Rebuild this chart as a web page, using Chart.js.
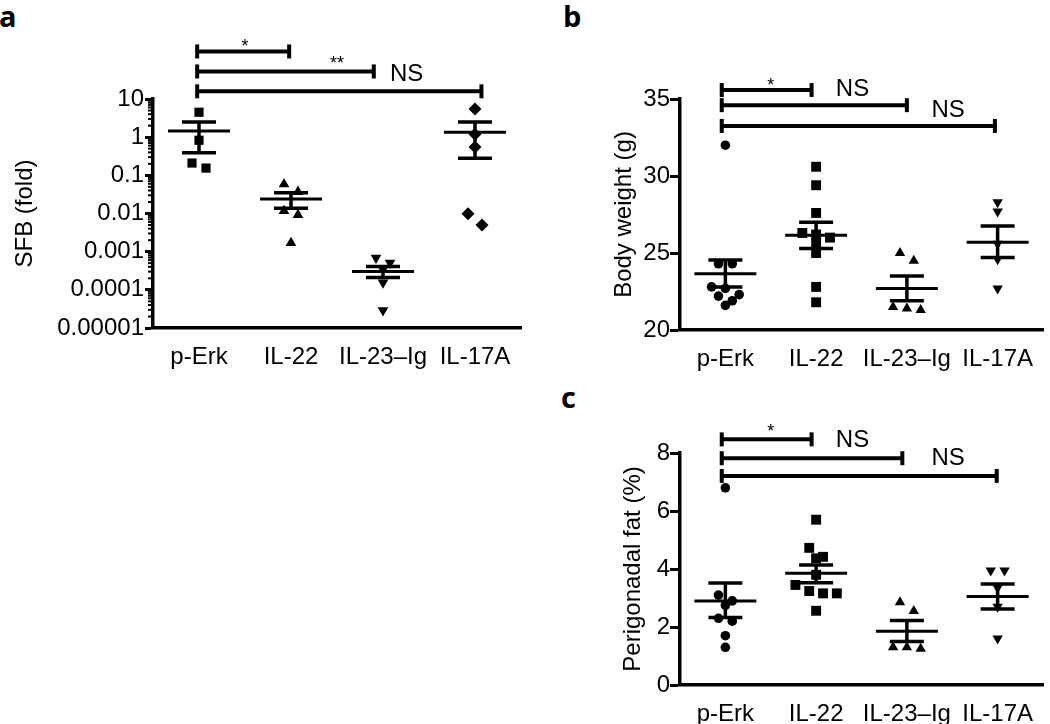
<!DOCTYPE html>
<html>
<head>
<meta charset="utf-8">
<script src="https://cdn.jsdelivr.net/npm/chart.js@4.4.0/dist/chart.umd.min.js"></script>
<style>
  body { margin: 0; background: #fff; }
  #page { position: relative; width: 1050px; height: 724px; overflow: hidden; background: #fff; }
  canvas { position: absolute; }
  .tag { position: absolute; font-family: 'Open Sans', sans-serif; font-weight: 700; font-size: 29px; line-height: 1; color: #000; }
</style>
</head>
<body>
<div id="page">
  <div class="tag" style="left:-1px;top:1px">a</div>
  <div class="tag" style="left:563px;top:1px">b</div>
  <div class="tag" style="left:561px;top:382px">c</div>
  <canvas id="chartA" width="530" height="400" style="left:0;top:0"></canvas>
  <canvas id="chartB" width="520" height="380" style="left:530px;top:0"></canvas>
  <canvas id="chartC" width="520" height="344" style="left:530px;top:380px"></canvas>
</div>
<script>
const groups = ['p-Erk', 'IL-22', 'IL-23–Ig', 'IL-17A'];

// a: SFB (fold), log axis
const sfbPErk = [4.5, 0.83, 0.21, 0.155];
const sfbIL22 = [0.059, 0.037, 0.0117, 0.0092, 0.0017];
const sfbIL23 = [0.00069, 0.00051, 0.00034, 0.000155, 0.000029];
const sfbIL17 = [5.5, 1.2, 0.55, 0.0098, 0.005];
const sfbMean = [1.45, 0.024, 0.0003, 1.35];
const sfbHi = [2.5, 0.035, 0.00041, 2.5];
const sfbLo = [0.39, 0.0137, 0.00021, 0.28];
const sfbTicks = [10, 1, 0.1, 0.01, 0.001, 0.0001, 0.00001];
const sfbTickLabels = ['10', '1', '0.1', '0.01', '0.001', '0.0001', '0.00001'];
const sfbBrackets = [[-0.02, 0.98, 176], [-0.02, 1.9, 52.7], [-0.02, 3.07, 15.9]];
const sfbNotes = [['*', 0.5, 224, 'center'], ['**', 1.5, 80.5, 'center'], ['NS', 2.076, 44.2, 'left']];

// b: body weight (g)
const bwPErk = [32.0, 24.3, 24.3, 22.8, 22.7, 22.3, 22.2, 21.9, 21.6];
const bwIL22 = [30.6, 29.4, 27.6, 26.3, 26.2, 26.0, 25.6, 25.0, 22.8, 21.8];
const bwIL23 = [25.0, 24.5, 21.5, 21.4, 21.3];
const bwIL17 = [28.3, 27.7, 25.6, 24.6, 22.7];
const bwMean = [23.65, 26.15, 22.7, 25.7];
const bwHi = [24.55, 27.0, 23.5, 26.75];
const bwLo = [22.8, 25.3, 21.9, 24.7];
const bwBrackets = [[-0.04, 0.95, 35.58], [-0.04, 2.0, 34.6], [-0.04, 2.97, 33.25]];
const bwNotes = [['*', 0.5, 35.86, 'center'], ['NS', 1.217, 35.6, 'left'], ['NS', 2.27, 34.24, 'left']];

// c: perigonadal fat (%)
const fatPErk = [6.8, 3.1, 2.9, 2.75, 2.3, 2.2, 1.7, 1.3];
const fatIL22 = [5.7, 4.73, 4.42, 4.37, 3.8, 3.45, 3.24, 3.16, 3.16, 2.56];
const fatIL23 = [2.85, 2.55, 1.3, 1.3, 1.25];
const fatIL17 = [3.95, 3.95, 3.35, 2.7, 1.6];
const fatMean = [2.9, 3.85, 1.85, 3.05];
const fatHi = [3.52, 4.14, 2.22, 3.48];
const fatLo = [2.33, 3.53, 1.5, 2.62];
const fatBrackets = [[-0.04, 0.95, 8.47], [-0.04, 1.95, 7.82], [-0.04, 2.99, 7.21]];
const fatNotes = [['*', 0.5, 8.72, 'center'], ['NS', 1.217, 8.45, 'left'], ['NS', 2.27, 7.83, 'left']];

Chart.defaults.font.family = "'Liberation Sans', Arial, sans-serif";
Chart.defaults.color = '#000';

// spread points of similar value side by side, centred on the group
function swarm(vals, idx, toPx, near) {
  const order = vals.map((v, i) => i).sort((a, b) => vals[b] - vals[a]);
  const out = [];
  let row = [];
  const flush = () => {
    row.forEach((i, k) => {
      const off = (k - (row.length - 1) / 2) * 14;
      out.push({ x: idx + off / 92, y: vals[i] });
    });
    row = [];
  };
  order.forEach(i => {
    if (row.length && Math.abs(toPx(vals[i]) - toPx(vals[row[0]])) > near) flush();
    row.push(i);
  });
  flush();
  return out;
}

function dotPlugin(cfg) {
  return {
    id: 'dots',
    afterDatasetsDraw(chart) {
      const { ctx, chartArea } = chart;
      const x = chart.scales.x, y = chart.scales.y;
      const seg = (x0, y0, x1, y1, w) => {
        ctx.lineWidth = w;
        ctx.beginPath(); ctx.moveTo(x0, y0); ctx.lineTo(x1, y1); ctx.stroke();
      };
      ctx.save();
      ctx.strokeStyle = '#000';
      ctx.fillStyle = '#000';
      cfg.mean.forEach((m, i) => {
        const cx = x.getPixelForValue(i);
        const yh = y.getPixelForValue(cfg.hi[i]);
        const yl = y.getPixelForValue(cfg.lo[i]);
        const ym = y.getPixelForValue(m);
        seg(cx, yh, cx, yl, 3.5);
        seg(cx - 17, yh, cx + 17, yh, 3.5);
        seg(cx - 17, yl, cx + 17, yl, 3.5);
        seg(cx - 31, ym, cx + 31, ym, 3);
      });
      cfg.brackets.forEach(([from, to, lvl]) => {
        const x0 = x.getPixelForValue(from), x1 = x.getPixelForValue(to), py = y.getPixelForValue(lvl);
        seg(x0, py, x1, py, 4);
        seg(x0, py - 7, x0, py + 7, 4);
        seg(x1, py - 7, x1, py + 7, 4);
      });
      ctx.textBaseline = 'middle';
      cfg.notes.forEach(([text, nx, ny, align]) => {
        ctx.font = text.includes('*') ? "18px 'Liberation Sans', Arial" : "24px 'Liberation Sans', Arial";
        ctx.textAlign = align;
        ctx.fillText(text, x.getPixelForValue(nx), y.getPixelForValue(ny));
      });
      if (cfg.minor) {
        for (let e = -5; e < 1; e++) {
          for (let k = 2; k < 10; k++) {
            const py = y.getPixelForValue(k * Math.pow(10, e));
            seg(chartArea.left - 5, py, chartArea.left, py, 2);
          }
        }
      }
      ctx.restore();
    }
  };
}

function makeChart(id, opt) {
  const font = { size: 24 };
  const sets = opt.series.map((vals, i) => ({
    data: swarm(vals, i, opt.toPx, opt.near),
    pointStyle: opt.styles[i],
    pointRotation: opt.rots[i],
    pointRadius: opt.radius[i],
    pointHoverRadius: opt.radius[i],
    backgroundColor: '#000',
    borderWidth: 0
  }));
  const yAxis = {
    type: opt.yType,
    min: opt.yMin,
    max: opt.yMax,
    ticks: { font, color: '#000', padding: opt.tickPad, autoSkip: false },
    grid: { drawOnChartArea: false, drawTicks: true, tickLength: opt.tickLen, tickWidth: 3, tickColor: '#000' },
    border: { display: true, color: '#000', width: 3.5 },
    title: { display: true, text: opt.title, font, color: '#000', padding: { top: opt.titlePad, bottom: 0 } },
    afterFit: s => { s.width = opt.yWidth; }
  };
  if (opt.yTicks) {
    yAxis.afterBuildTicks = s => { s.ticks = opt.yTicks.map(v => ({ value: v })); };
    yAxis.ticks.callback = v => opt.yTickLabels[opt.yTicks.indexOf(v)];
  } else {
    yAxis.ticks.stepSize = opt.yStep;
  }
  return new Chart(document.getElementById(id), {
    type: 'scatter',
    data: { datasets: sets },
    options: {
      responsive: false,
      animation: false,
      events: [],
      layout: { padding: { top: opt.padTop, right: opt.padRight, left: 0, bottom: 0 } },
      plugins: { legend: { display: false }, tooltip: { enabled: false } },
      scales: {
        x: {
          type: 'linear',
          min: -0.5,
          max: 3.5,
          afterBuildTicks: s => { s.ticks = groups.map((g, i) => ({ value: i })); },
          ticks: { font, color: '#000', padding: 7, maxRotation: 0, autoSkip: false, callback: v => groups[v] },
          grid: { display: false },
          border: { display: true, color: '#000', width: 3.5 },
          afterFit: s => { s.height = opt.xHeight; }
        },
        y: yAxis
      }
    },
    plugins: [dotPlugin(opt)]
  });
}

makeChart('chartA', {
  series: [sfbPErk, sfbIL22, sfbIL23, sfbIL17],
  styles: ['rect', 'triangle', 'triangle', 'rectRot'],
  rots: [0, 0, 180, 0],
  radius: [6.5, 6.2, 6.2, 6.5],
  toPx: v => -38.3 * Math.log10(v), near: 11.5,
  yType: 'logarithmic', yMin: 0.00001, yMax: 10,
  yTicks: sfbTicks, yTickLabels: sfbTickLabels,
  title: 'SFB (fold)', titlePad: 10.6,
  tickPad: 1, tickLen: 8,
  yWidth: 153, xHeight: 72, padTop: 99, padRight: 9,
  mean: sfbMean, hi: sfbHi, lo: sfbLo,
  brackets: sfbBrackets, notes: sfbNotes, minor: true
});

makeChart('chartB', {
  series: [bwPErk, bwIL22, bwIL23, bwIL17],
  styles: ['circle', 'rect', 'triangle', 'triangle'],
  rots: [0, 0, 0, 180],
  radius: [4.8, 7, 6, 6],
  toPx: v => -15.38 * v, near: 9,
  yType: 'linear', yMin: 20, yMax: 35, yStep: 5,
  title: 'Body weight (g)', titlePad: 79.6,
  tickPad: 0, tickLen: 10,
  yWidth: 150, xHeight: 50, padTop: 99, padRight: 2,
  mean: bwMean, hi: bwHi, lo: bwLo,
  brackets: bwBrackets, notes: bwNotes, minor: false
});

makeChart('chartC', {
  series: [fatPErk, fatIL22, fatIL23, fatIL17],
  styles: ['circle', 'rect', 'triangle', 'triangle'],
  rots: [0, 0, 0, 180],
  radius: [4.8, 7, 6, 6],
  toPx: v => -29 * v, near: 9,
  yType: 'linear', yMin: 0, yMax: 8, yStep: 2,
  title: 'Perigonadal fat (%)', titlePad: 88.6,
  tickPad: 0, tickLen: 10,
  yWidth: 150, xHeight: 39, padTop: 73, padRight: 2,
  mean: fatMean, hi: fatHi, lo: fatLo,
  brackets: fatBrackets, notes: fatNotes, minor: false
});
</script>
</body>
</html>
